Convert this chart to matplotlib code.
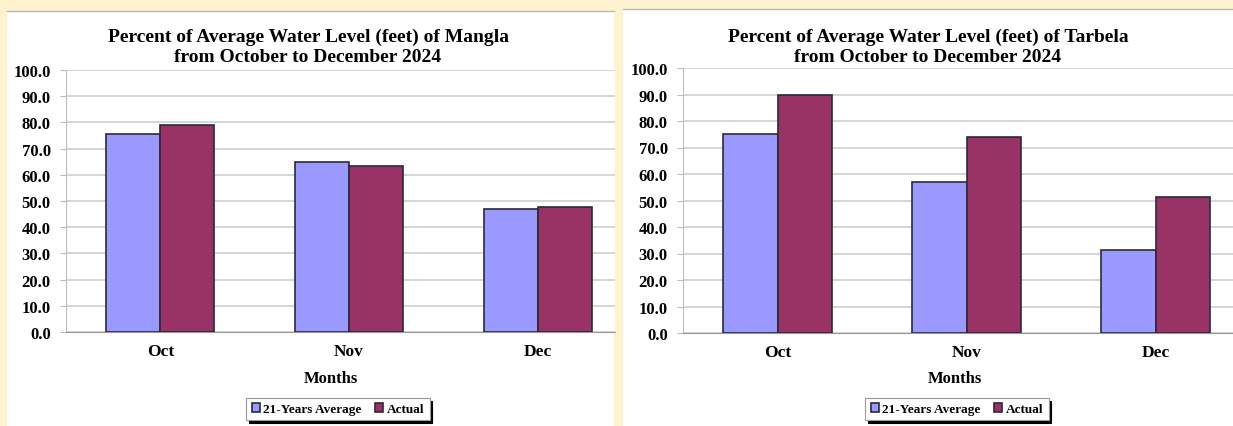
import matplotlib.pyplot as plt
from matplotlib.patches import Rectangle
from matplotlib.lines import Line2D
import numpy as np

plt.rcParams['font.family'] = 'Liberation Serif'
plt.rcParams['font.weight'] = 'bold'

months = ['Oct', 'Nov', 'Dec']
mangla_avg = [75.5, 64.7, 46.9]
mangla_actual = [79.0, 63.3, 47.6]
tarbela_avg = [75.2, 57.0, 31.5]
tarbela_actual = [90.0, 74.1, 51.3]
series_names = ['21-Years Average', 'Actual']

W, H = 1233, 427
avg_color = '#9999FF'
act_color = '#993366'
edge = '#2b2b3a'
cream = '#FFF2CF'

fig = plt.figure(figsize=(W / 100, H / 100), dpi=100)
fig.patch.set_facecolor(cream)


def px_rect(x0, y0, x1, y1):
    # pixel box (top-left origin) -> figure fraction
    return [x0 / W, (H - y1) / H, (x1 - x0) / W, (y1 - y0) / H]


# white panels with a thin grey top line
for x0, y0, x1 in [(7, 12, 614), (623, 10, 1233)]:
    fig.patches.append(Rectangle((x0 / W, 0), (x1 - x0) / W, (H - y0) / H,
                                 transform=fig.transFigure, facecolor='white',
                                 edgecolor='none', zorder=-2))
    fig.lines.append(Line2D([x0 / W, x1 / W], [1 - y0 / H, 1 - y0 / H],
                            transform=fig.transFigure, color='#b8b8b8',
                            linewidth=1.0, zorder=-1))


def draw_chart(box, avg, actual, name, title_x, months_x, legend_x):
    ax = fig.add_axes(px_rect(*box))
    x = np.arange(len(months))
    w = 0.286
    b1 = ax.bar(x - w / 2, avg, w, color=avg_color, edgecolor=edge, linewidth=1.2,
                label=series_names[0], zorder=3)
    b2 = ax.bar(x + w / 2, actual, w, color=act_color, edgecolor=edge, linewidth=1.2,
                label=series_names[1], zorder=3)
    ax.set_ylim(0, 100)
    ax.set_yticks(np.arange(0, 101, 10))
    ax.set_yticklabels(['{:.1f}'.format(v) for v in np.arange(0, 101, 10)])
    ax.set_xticks(x)
    ax.set_xticklabels(months)
    ax.set_xlim(-0.5, 2.41)
    ax.grid(axis='y', color='#cfcfcf', linewidth=1.2, zorder=0)
    for s in ['top', 'right']:
        ax.spines[s].set_visible(False)
    ax.spines['left'].set_color('#bdbdbd')
    ax.spines['bottom'].set_color('#999999')
    ax.tick_params(axis='y', length=4, color='#bdbdbd', labelsize=12, pad=7)
    ax.tick_params(axis='x', length=0, labelsize=12.5, pad=8)
    ax.set_facecolor('white')

    fig.text(title_x / W, 1 - 47 / H,
             'Percent of Average Water Level (feet) of {}\nfrom October to December 2024'.format(name),
             ha='center', va='center', fontsize=14, fontweight='bold', linespacing=1.25)
    fig.text(months_x / W, 1 - 379 / H, 'Months', ha='center', va='center',
             fontsize=12, fontweight='bold')
    leg = fig.legend(handles=[b1, b2], loc='center', bbox_to_anchor=(legend_x / W, 1 - 410 / H),
                     ncol=2, frameon=True, shadow={'color': 'black', 'alpha': 1},
                     fancybox=False, fontsize=9.5, handlelength=0.6, handleheight=0.6,
                     handletextpad=0.3, columnspacing=1.0, borderpad=0.4)
    leg.get_frame().set_edgecolor('#999999')
    leg.get_frame().set_linewidth(0.8)
    return ax


draw_chart((66, 71, 615, 333), mangla_avg, mangla_actual, 'Mangla', 308, 331, 338)
draw_chart((683, 69, 1233, 334), tarbela_avg, tarbela_actual, 'Tarbela', 928, 955, 957)

fig.savefig('out.png', dpi=100, facecolor=cream)
